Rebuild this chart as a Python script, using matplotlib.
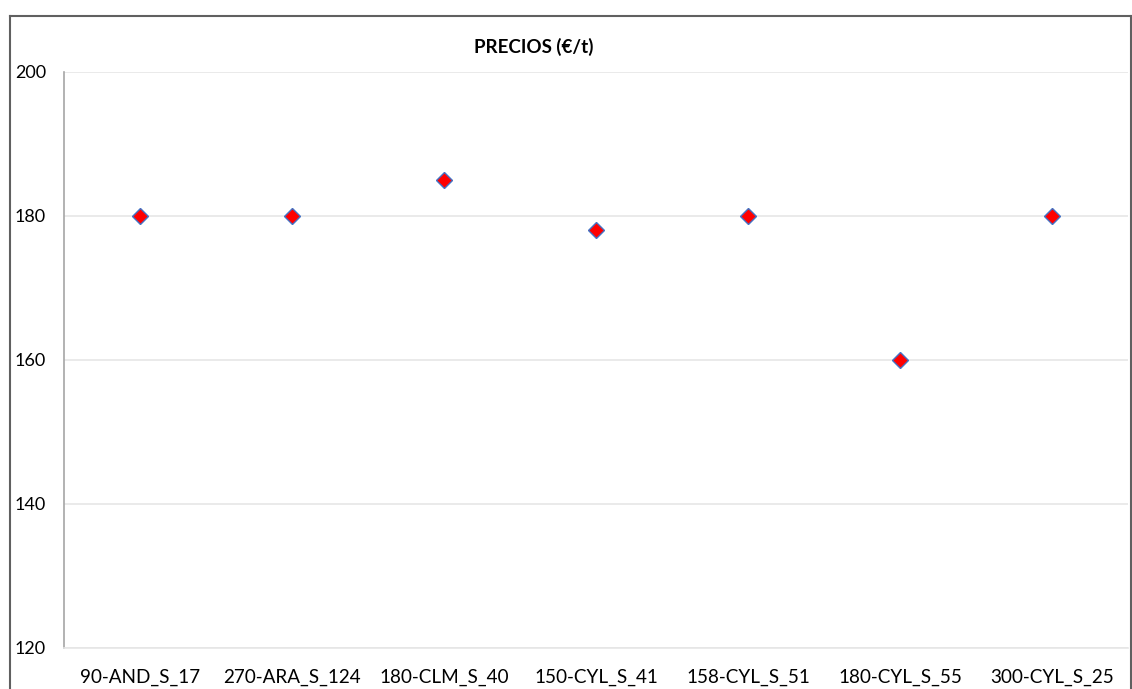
import matplotlib
matplotlib.use("Agg")
import matplotlib.pyplot as plt
from matplotlib.lines import Line2D

categories = ["90-AND_S_17", "270-ARA_S_124", "180-CLM_S_40", "150-CYL_S_41",
              "158-CYL_S_51", "180-CYL_S_55", "300-CYL_S_25"]
prices = [180, 180, 185, 178, 180, 160, 180]
yticks = [120, 140, 160, 180, 200]
title = "PRECIOS (€/t)"

plt.rcParams['font.family'] = ['Lato', 'DejaVu Sans']

W, H = 1132, 689
fig = plt.figure(figsize=(W/100, H/100), dpi=100)
ax = fig.add_axes([64/W, 1 - 648/H, (1128-64)/W, (648-72)/H])

x = list(range(len(categories)))
ax.plot(x, prices, linestyle='none', marker='D', markersize=8.5,
        markerfacecolor='#FF0000', markeredgecolor='#4472C4', markeredgewidth=1, zorder=3)

ax.set_xlim(-0.5, len(categories) - 0.5)
ax.set_ylim(120, 200)
ax.set_yticks(yticks)
ax.set_yticklabels([str(v) for v in yticks], fontsize=13)
ax.set_xticks(x)
ax.set_xticklabels(categories, fontsize=13.6)
ax.tick_params(axis='both', length=0, colors='#000000')
ax.tick_params(axis='y', pad=13)
ax.tick_params(axis='x', pad=15)
ax.grid(axis='y', color='#e6e6e6', linewidth=1.2)
ax.set_axisbelow(True)
for s in ['top', 'right']:
    ax.spines[s].set_visible(False)
ax.spines['left'].set_color('#a6a6a6')
ax.spines['left'].set_linewidth(1.2)
ax.spines['bottom'].set_color('#e6e6e6')
ax.spines['bottom'].set_linewidth(1.2)

fig.text(534/W, 1 - 47/H, title, ha='center', va='center', fontsize=13.5, fontweight='bold')

# outer border
bc = '#606060'
fig.add_artist(Line2D([10/W, 10/W], [0, 1 - 16/H], transform=fig.transFigure, color=bc, linewidth=1.5))
fig.add_artist(Line2D([10/W, 1131/W], [1 - 16/H, 1 - 16/H], transform=fig.transFigure, color=bc, linewidth=1.5))
fig.add_artist(Line2D([1131/W, 1131/W], [0, 1 - 16/H], transform=fig.transFigure, color=bc, linewidth=1.5))

fig.savefig("out.png", dpi=100)
